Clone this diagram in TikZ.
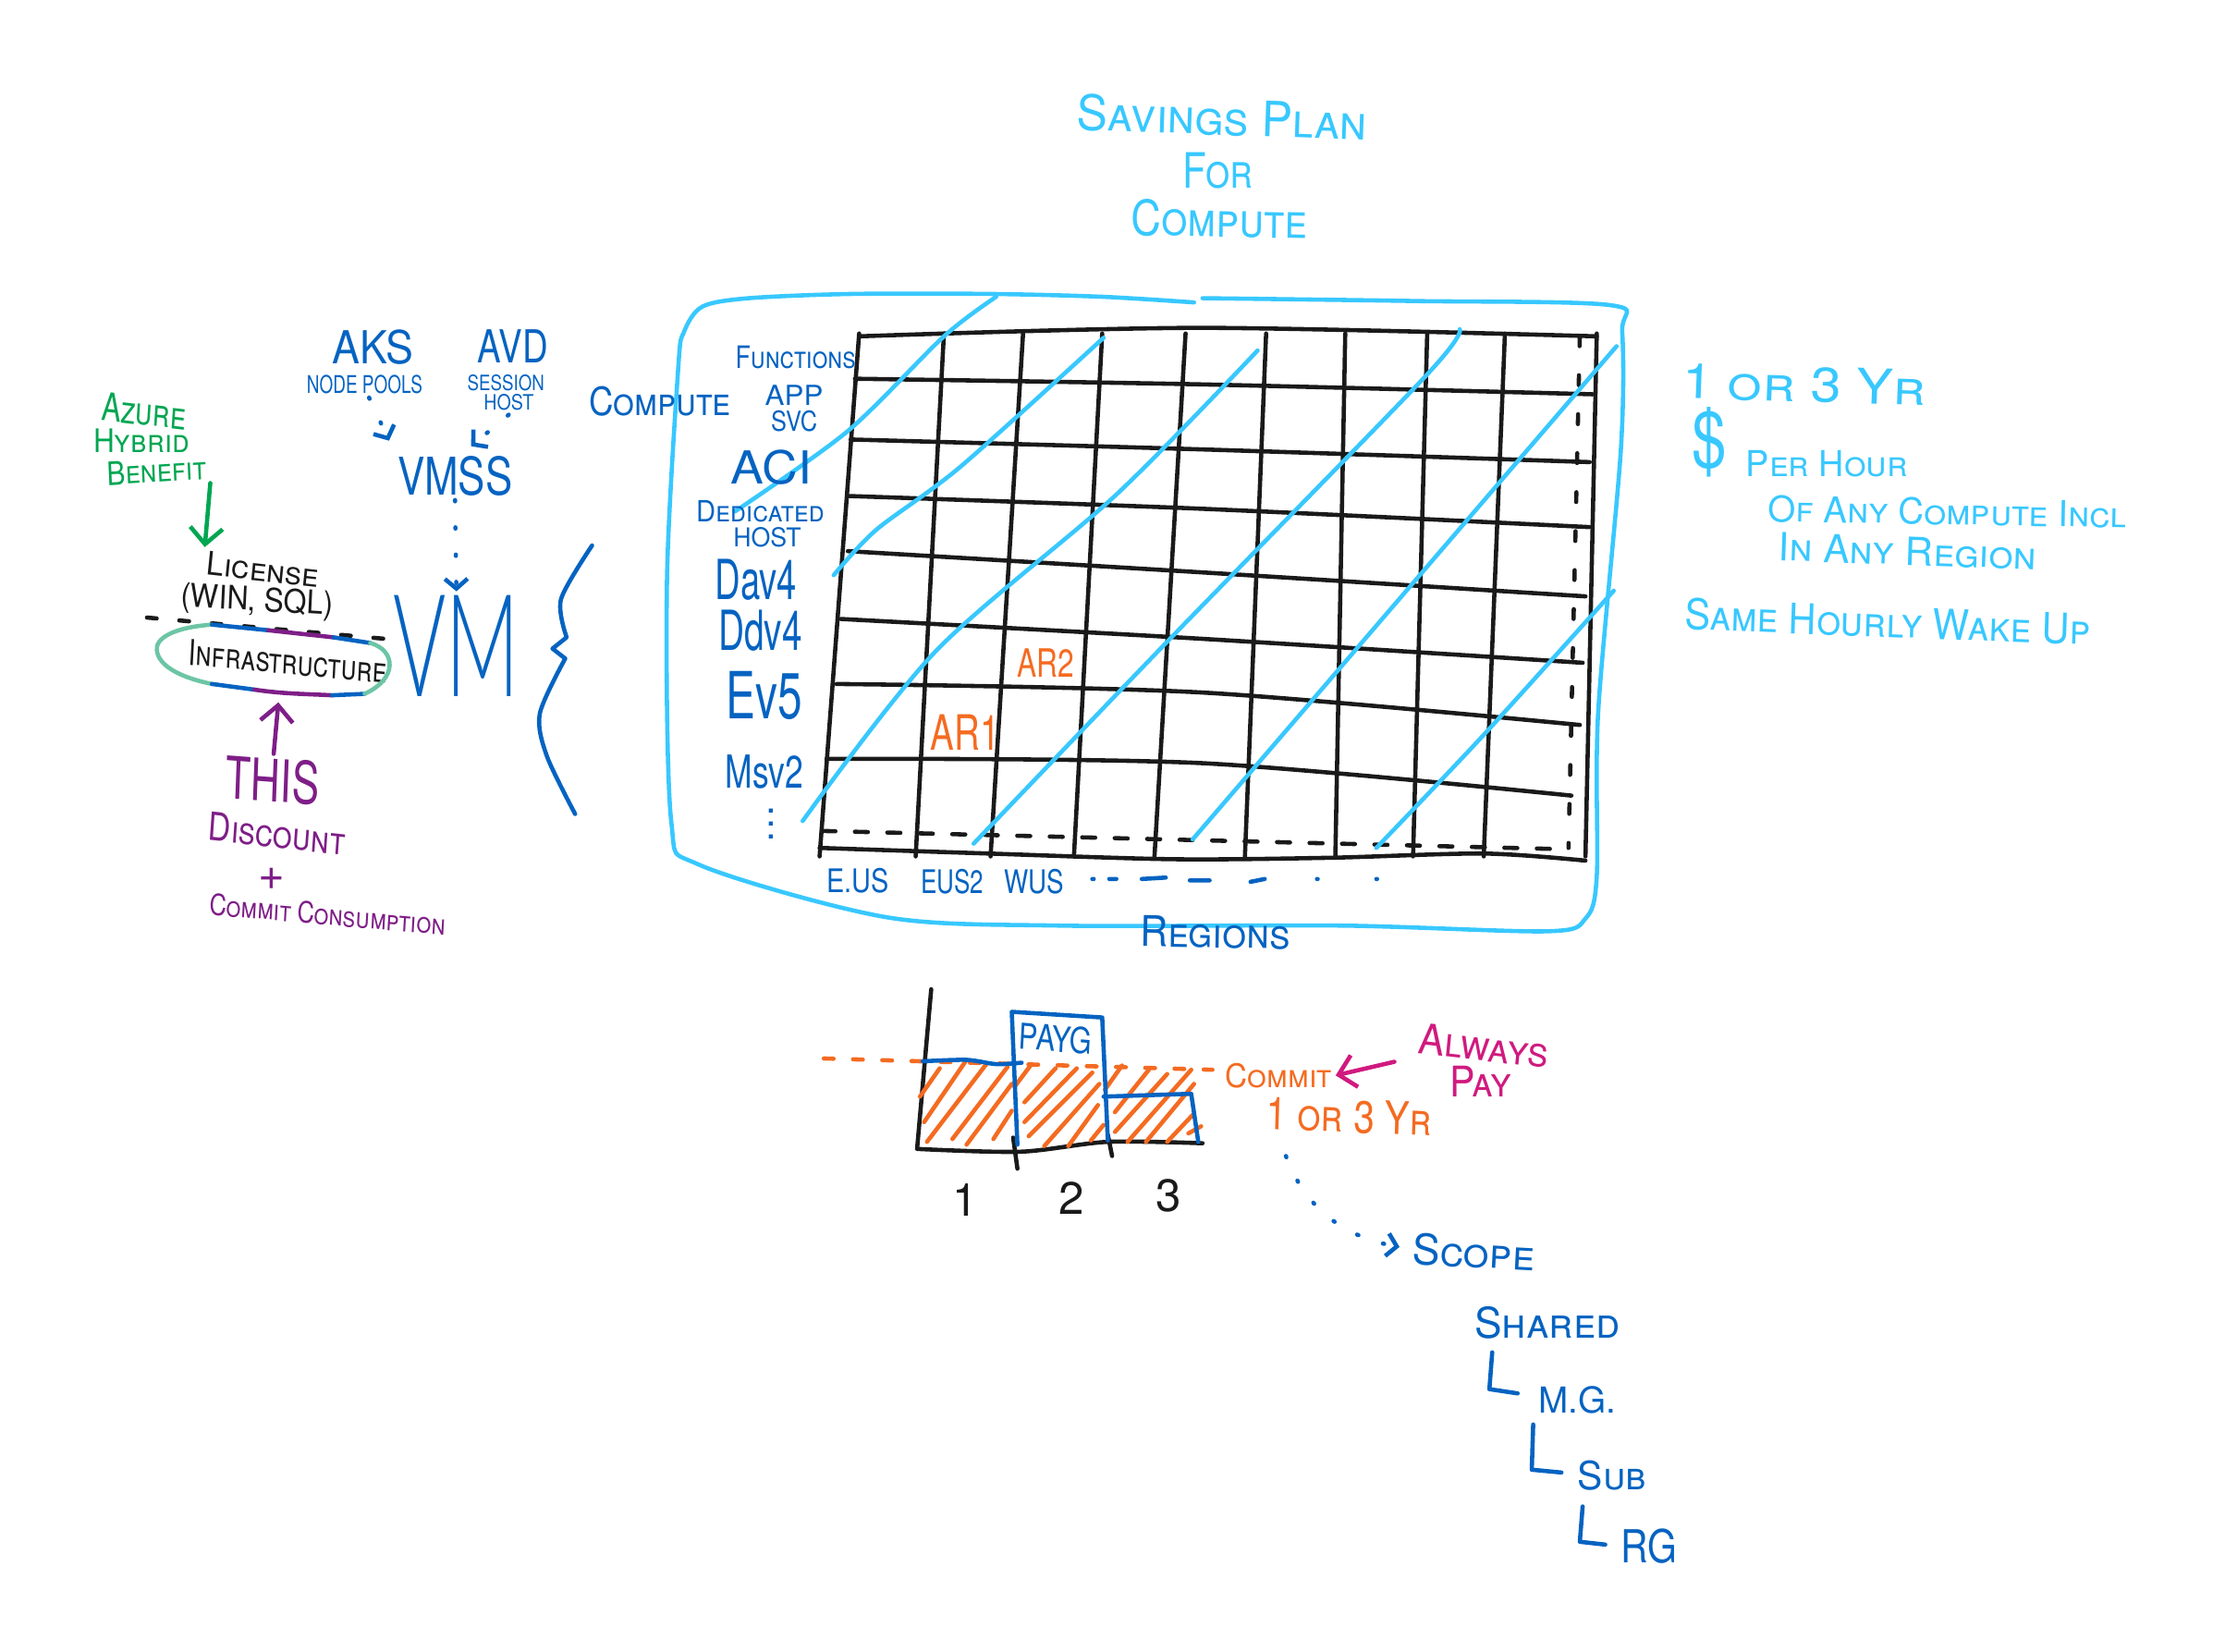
\documentclass[tikz,border=0pt]{standalone}
\usepackage{fontspec}
\setmainfont{TeX Gyre Heros}
\newfontfamily\thinhand{Lato Light}
\usetikzlibrary{arrows.meta}
\definecolor{inkblue}{HTML}{0563C1}
\definecolor{skyink}{HTML}{38C8FF}
\definecolor{orangeink}{HTML}{F46B21}
\definecolor{greenink}{HTML}{00A651}
\definecolor{purpleink}{HTML}{7E1E87}
\definecolor{pinkink}{HTML}{D01A7F}
\definecolor{blackink}{HTML}{1A1A1A}
\definecolor{tealink}{HTML}{6CC5A5}
\tikzset{
  >={Straight Barb[length=5pt,width=10pt]},
  pen/.style={line width=1.3pt,line cap=round,line join=round},
  every node/.style={inner sep=1pt},
  fs/.style={font=\scshape\fontsize{#1}{#1}\selectfont},
  plainfs/.style={font=\fontsize{#1}{#1}\selectfont},
  sx/.style={xscale=#1,transform shape},
  blue/.style={text=inkblue},
  sky/.style={text=skyink},
  gridline/.style={pen,draw=blackink},
  boxline/.style={pen,draw=skyink},
  dotline/.style={pen,draw=inkblue,dash pattern=on 0.4pt off 8pt,>={Straight Barb[length=3pt,width=7pt]}},
  hatch/.style={pen,draw=orangeink},
  chartline/.style={pen,draw=inkblue}
}
\begin{document}
\begin{tikzpicture}[x=0.01529cm,y=-0.01529cm]
\useasboundingbox (0,0) rectangle (1566.1,1168.4);

% title
\node[fs=15,sky,sx=.95,rotate=-2] (plan) at (865,83) {Savings Plan};
\node[fs=15,sky,sx=.8] (planfor) at (862,121) {For};
\node[fs=15,sky,sx=.86,rotate=-1] (plancompute) at (863,155) {Compute};

% outer box
\draw[boxline] plot[smooth] coordinates {(845,214) (780,210) (701,208) (603,208) (530,211) (497,217) (484,235) (480,260) (472,411) (475,581) (495,612) (627,649) (750,655) (950,655) (1095,659) (1122,650) (1130,620) (1131,504) (1147,319) (1148,235) (1140,216) (1000,213) (851,211)};

% grid
\foreach \xa/\ya/\ym/\yb/\xb in {608/238/232/238/1130,605/268/272/279/1127,602/311/318/327/1125,601/351/360/373/1125,600/390/405/422/1122,595/438/452/469/1120,592/484/490/513/1118,585/537/540/563/1112}
  \draw[gridline] plot[smooth] coordinates {(\xa,\ya) (850,\ym) (\xb,\yb)};
\draw[gridline] plot[smooth] coordinates {(580,600) (700,604) (830,608) (940,607) (1050,604) (1122,609)};
\foreach \ta/\tb in {608/580,668/648,724/701,780/760,839/817,896/881,952/945,1010/1000,1065/1050,1130/1122}
  \draw[gridline] (\ta,236) -- (\tb,606);
\draw[pen,draw=blackink,dash pattern=on 4pt off 6pt] (582,588) -- (1110,601);
\draw[pen,draw=blackink,dash pattern=on 3pt off 9pt] (1118,238) -- (1110,600);

% diagonals
\draw[boxline] plot[smooth] coordinates {(705,210) (668,238) (600,305) (520,362)};
\draw[boxline] plot[smooth] coordinates {(781,239) (680,330) (620,375) (590,407)};
\draw[boxline] plot[smooth] coordinates {(890,248) (790,350) (662,461) (568,581)};
\draw[boxline] plot[smooth] coordinates {(1033,233) (1009,266) (829,451) (689,597)};
\draw[boxline] (1144,245) -- (844,594);
\draw[boxline] plot[smooth] coordinates {(1142,418) (1050,520) (974,600)};

% rows
\node[fs=9.5,blue,sx=.8] (rowfunc) at (563,253) {Functions};
\node[fs=8.5,blue,sx=1.05] (rowapp) at (562,280) {APP};
\node[fs=8.5,blue,sx=.85] (rowsvc) at (562,298) {SVC};
\node[fs=14,blue,sx=1.09] (rowaci) at (546,331) {ACI};
\node[fs=9,blue,sx=.92] (rowded) at (538,362) {Dedicated};
\node[fs=8,blue,sx=.95] (rowhost) at (543,380) {HOST};
\node[plainfs=17,blue,sx=.64] (rowdav) at (535,410) {Dav4};
\node[plainfs=17,blue,sx=.65] (rowddv) at (538,446) {Ddv4};
\node[plainfs=20,blue,sx=.68] (rowev) at (541,492) {Ev5};
\node[plainfs=14,blue,sx=.72] (rowms) at (541,546) {Msv2};
\node[plainfs=12,blue] (rowmore) at (546,576) {\vdots};
\node[fs=12,blue,sx=.87] (computelabel) at (467,284) {Compute};

% columns
\node[fs=10,blue,sx=.82] (coleus) at (607,623) {E.US};
\node[fs=10,blue,sx=.74] (coleus2) at (674,624) {EUS2};
\node[fs=10,blue,sx=.79] (colwus) at (732,624) {WUS};
\draw[pen,draw=inkblue] (773,622) -- (774,622) (785,622) -- (790,622) (808,622) -- (825,621) (842,623) -- (856,623) (885,624) -- (895,622) (932,622) -- (932.5,622) (974,622) -- (974.5,622);
\node[fs=13,blue,sx=.91,rotate=-1] (regionlabel) at (860,660) {Regions};

\node[plainfs=15,text=orangeink,sx=.73] (ar1) at (683,518) {AR1};
\node[plainfs=12,text=orangeink,sx=.75] (ar2) at (740,469) {AR2};

% right notes
\node[fs=15,sky,sx=1.13,rotate=-2] (termnote) at (1277,272) {1 or 3 Yr};
\node[plainfs=24,sky,sx=.8] (dollar) at (1210,313) {\$};
\node[fs=11,sky,sx=.98] (pernote) at (1293,328) {Per Hour};
\node[fs=11,sky,rotate=-1] (anynote) at (1378,362) {Of Any Compute Incl};
\node[fs=12,sky,rotate=-2] (regionnote) at (1350,390) {In Any Region};
\node[fs=13,sky,sx=.91,rotate=-2] (samenote) at (1336,440) {Same Hourly Wake Up};

% left stack
\node[fs=14,blue,sx=.91] (aks) at (264,246) {AKS};
\node[fs=7.5,blue,sx=.72] (akspool) at (258,272) {NODE POOLS};
\node[fs=14,blue,sx=.78] (avd) at (363,245) {AVD};
\node[fs=6.5,blue,sx=.82] (avdsession) at (358,271) {SESSION};
\node[fs=6.5,blue,sx=.86] (avdhost) at (360,285) {HOST};
\node[fs=16,blue,sx=.78] (vmss) at (322,337) {VMSS};
\node[blue,font=\thinhand\fontsize{44}{44}\selectfont,sx=.565] (vm) at (323,457) {VM};
\draw[dotline,->,shorten >=4pt] (akspool.-65) -- (vmss.north west);
\draw[dotline,->,shorten >=3pt] (avdhost.south) -- (vmss.65);
\draw[dotline,->] (vmss.south) -- (vm.north);

\draw[pen,draw=inkblue] plot[smooth] coordinates {(419,386) (397,424) (401,451)} -- (391,459) -- (400,466) plot[smooth] coordinates {(400,466) (382,505) (387,535) (407,576)};

% licence and infrastructure
\node[fs=12,text=greenink,sx=.75,rotate=-5] (benazure) at (102,291) {Azure};
\node[fs=10,text=greenink,sx=.9] (benhybrid) at (100,312) {Hybrid};
\node[fs=10,text=greenink,sx=.85,rotate=3] (benefit) at (111,333) {Benefit};
\node[fs=10,text=blackink,sx=.96,rotate=-6] (license) at (186,403) {License};
\node[fs=10,text=blackink,sx=.91,rotate=-3] (licensewin) at (182,426) {(WIN, SQL)};
\draw[pen,greenink,->] (benefit.south east) -- (license.north west);
\draw[pen,draw=blackink,dash pattern=on 3pt off 7pt] (104,437) -- (272,452);
\node[fs=11,text=blackink,sx=.74,rotate=-4] (infra) at (204,468) {Infrastructure};
\coordinate (infralow) at (197,497);

% oval, coloured piece by piece
\draw[pen,draw=tealink] (150,442) .. controls (122,444) and (110,452) .. (111,460) .. controls (112,472) and (130,480) .. (150,484);
\draw[pen,draw=inkblue] (150,442) -- (190,446) (150,484) -- (180,488);
\draw[pen,draw=purpleink] (190,446) -- (236,451) (180,488) .. controls (200,491) and (215,491) .. (235,492);
\draw[pen,draw=inkblue] (236,451) -- (262,455) (235,492) -- (258,491);
\draw[pen,draw=tealink] (262,455) .. controls (280,460) and (282,480) .. (258,491);

\node[fs=18,text=purpleink,sx=.7,rotate=-3] (thisnote) at (193,552) {THIS};
\node[fs=12,text=purpleink,sx=.8,rotate=-5] (discount) at (196,590) {Discount};
\node[plainfs=14,text=purpleink] (plus) at (192,622) {+};
\node[fs=9,text=purpleink,sx=.81,rotate=-4] (commitnote) at (232,647) {Commit Consumption};
\draw[pen,purpleink,->] (thisnote.north) -- (infralow);

% chart
\draw[gridline] (659,700) -- (649,813) plot[smooth] coordinates {(649,813) (722,815) (784,808) (851,809)};
\draw[gridline] (717,805) -- (720,827) (784,803) -- (787,818);
\foreach \xa/\ya/\xb/\yb in {665/756/651/776,684/750/654/794,698/753/656/808,713/755/674/806,716/767/684/810,716/786/703/806,730/753/718/769,747/756/725/780,762/756/725/794,773/759/728/804,778/767/739/811,777/782/756/811,781/796/772/807,794/754/782/771,813/757/789/787,826/760/789/801,843/757/798/808,845/767/811/808,844/789/826/808,850/797/841/802}
  \draw[hatch] (\xa,\ya) -- (\xb,\yb);
\draw[pen,draw=orangeink,dash pattern=on 3pt off 6pt] (583,749) -- (858,757);
\draw[chartline] plot[smooth] coordinates {(653,751) (684,750) (705,753) (723,752)};
\draw[chartline] (720,810) -- (716,716) -- (780,720) -- (784,807);
\draw[chartline] (781,776) -- (843,774) -- (848,808);

\node[plainfs=11,blue,sx=.8,rotate=-4] (payg) at (747,735) {PAYG};
\node[fs=10,text=orangeink,sx=.95] (commit) at (905,761) {Commit};
\node[fs=14,text=orangeink,sx=.82,rotate=-2] (termcommit) at (955,790) {1 or 3 Yr};
\node[fs=13,text=pinkink,sx=.92,rotate=-6] (always) at (1050,740) {Always};
\node[fs=13,text=pinkink,sx=.9] (alwayspay) at (1048,765) {Pay};
\draw[pen,pinkink,->,shorten <=6pt] (always.south west) -- (commit.east);
\node[plainfs=14,text=blackink] (bar1) at (683,849) {1};
\node[plainfs=14,text=blackink] (bar2) at (758,848) {2};
\node[plainfs=14,text=blackink] (bar3) at (827,846) {3};

% scope list
\coordinate (scopestart) at (910,818);
\node[fs=13,blue,sx=.98,rotate=-3] (scope) at (1043,886) {Scope};
\node[fs=13,blue,sx=.97] (shared) at (1095,936) {Shared};
\node[fs=11,blue] (mg) at (1116,991) {M.G.};
\node[fs=12,blue,sx=.97] (subnode) at (1141,1044) {Sub};
\node[fs=14,blue,sx=.83] (rgnode) at (1167,1094) {RG};
\draw[dotline,->,shorten >=3pt] (scopestart) to[out=-70,in=170] (scope.west);
\draw[chartline] (1056,957) -- (1054,983) -- (1074,986);
\draw[chartline] (1085,1008) -- (1084,1040) -- (1105,1042);
\draw[chartline] (1120,1066) -- (1118,1091) -- (1136,1093);

\end{tikzpicture}
\end{document}
